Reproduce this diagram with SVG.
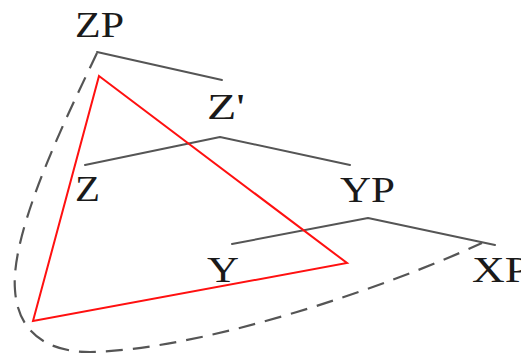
<svg xmlns="http://www.w3.org/2000/svg" width="521" height="353" viewBox="0 0 521 353">
<style>
.lbl{font-family:"Liberation Serif","Times New Roman",serif;font-size:36px;fill:#1a1a1a}
.edge{fill:none;stroke:#555;stroke-width:2;stroke-linecap:round;stroke-linejoin:round}
.dash{fill:none;stroke:#555;stroke-width:2.2;stroke-dasharray:17 10}
.tri{fill:none;stroke:#ff1010;stroke-width:2;stroke-linejoin:miter}
</style>
<rect width="521" height="353" fill="#fff"/>
<g id="connectors">
<polyline class="edge" points="97,52 222,80"/>
<polyline class="edge" points="85,165 220,137 350,165"/>
<polyline class="edge" points="232,244 368,218 495,245"/>
</g>
<path id="dashed-curve" class="dash" d="M97,53 C70,110 10,230 15,290 C18,335 50,352 90,352 C200,350 380,290 482,243"/>
<polygon id="triangle" class="tri" points="99,76 347,263 33,321"/>
<g id="node-ZP"><text class="lbl" x="75" y="37" textLength="49" lengthAdjust="spacingAndGlyphs">ZP</text></g>
<g id="node-Zbar"><text class="lbl" x="207" y="119" textLength="38" lengthAdjust="spacingAndGlyphs">Z'</text></g>
<g id="node-Z"><text class="lbl" x="75" y="201" textLength="25" lengthAdjust="spacingAndGlyphs">Z</text></g>
<g id="node-YP"><text class="lbl" x="340" y="202" textLength="55" lengthAdjust="spacingAndGlyphs">YP</text></g>
<g id="node-Y"><text class="lbl" x="207" y="282" textLength="32" lengthAdjust="spacingAndGlyphs">Y</text></g>
<g id="node-XP"><text class="lbl" x="472" y="282" textLength="58" lengthAdjust="spacingAndGlyphs">XP</text></g>
</svg>
